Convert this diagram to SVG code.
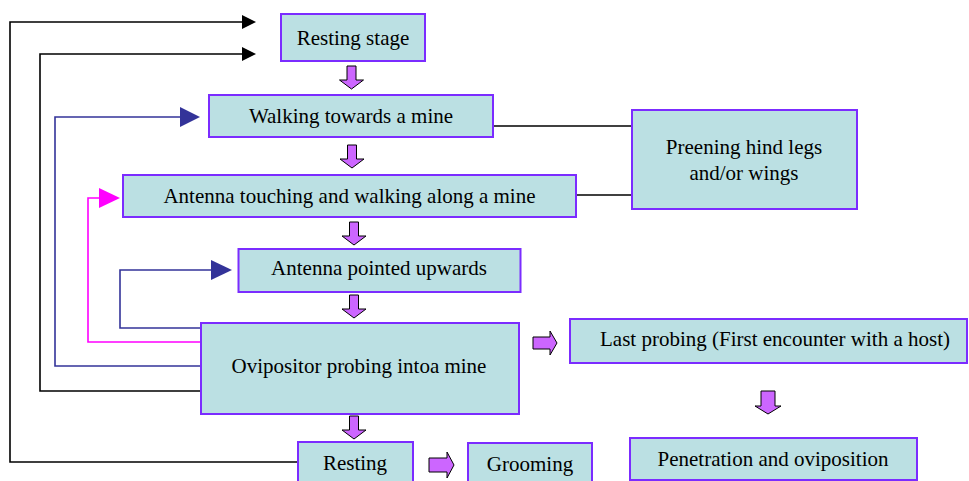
<svg xmlns="http://www.w3.org/2000/svg" width="969" height="481" viewBox="0 0 969 481">
<style>
.box{fill:#BBE0E3;stroke:#7B2CFF;stroke-width:2}
.t{font-family:"Liberation Serif","Times New Roman",serif;font-size:21px;fill:#000;text-anchor:middle}
.blk{fill:#CC66FF;stroke:#000;stroke-width:1}
.ln{fill:none;stroke-width:1.6}
.k{stroke:#000}
.b{stroke:#333399}
.m{stroke:#FF00FF}
</style>
<rect width="969" height="481" fill="#fff"/>
<g id="connectors">
  <path class="ln k" d="M298,462 H10 V22 H244"/>
  <polygon points="242,15 256,22 242,29" fill="#000"/>
  <path class="ln k" d="M201,391 H40 V54 H244"/>
  <polygon points="242,47 256,54 242,61" fill="#000"/>
  <path class="ln b" d="M201,366 H55 V117 H182"/>
  <polygon points="180,107 200,117 180,127" fill="#333399"/>
  <path class="ln m" d="M201,342 H88 V198 H101"/>
  <polygon points="99,188 120,198 99,208" fill="#FF00FF"/>
  <path class="ln b" d="M201,328 H120 V270 H213"/>
  <polygon points="211,260 232,270 211,280" fill="#333399"/>
  <path class="ln k" d="M493,126 H632"/>
  <path class="ln k" d="M576,195 H632"/>
  <path class="blk" d="M347,66 H356 V80 H363.5 L351.5,89 L339.5,80 H347 Z"/>
  <path class="blk" d="M347.5,145 H356.5 V159 H364 L352,168 L340,159 H347.5 Z"/>
  <path class="blk" d="M349.5,222 H358.5 V236 H366 L354,245 L342,236 H349.5 Z"/>
  <path class="blk" d="M349.5,295 H358.5 V309 H366 L354,318 L342,309 H349.5 Z"/>
  <path class="blk" d="M349.5,416 H358.5 V430 H366 L354,439 L342,430 H349.5 Z"/>
  <path class="blk" d="M761,391 H775 V406 H781 L768,414 L755,406 H761 Z"/>
  <path class="blk" d="M533,337 H550 V331 L557,343 L550,355 V349 H533 Z"/>
  <path class="blk" d="M429,458 H447 V452 L454,465 L447,478 V472 H429 Z"/>
</g>
<g id="resting-stage"><rect class="box" x="281" y="14" width="144" height="47"/><text class="t" x="353" y="45">Resting stage</text></g>
<g id="walking"><rect class="box" x="209" y="95" width="284" height="42"/><text class="t" x="351" y="123">Walking towards a mine</text></g>
<g id="antenna-touching"><rect class="box" x="123" y="175" width="453" height="42"/><text class="t" x="349.5" y="203">Antenna touching and walking along a mine</text></g>
<g id="preening"><rect class="box" x="632" y="110" width="225" height="99"/><text class="t" x="744" y="154">Preening hind legs</text><text class="t" x="744" y="180">and/or wings</text></g>
<g id="antenna-pointed"><rect class="box" x="238.5" y="249" width="282" height="43"/><text class="t" x="379" y="275">Antenna pointed upwards</text></g>
<g id="ovipositor"><rect class="box" x="201" y="323" width="318" height="91"/><text class="t" x="359" y="373">Ovipositor probing intoa mine</text></g>
<g id="resting"><rect class="box" x="298" y="442" width="115" height="50"/><text class="t" x="355" y="470">Resting</text></g>
<g id="grooming"><rect class="box" x="468" y="443" width="124" height="50"/><text class="t" x="530" y="471">Grooming</text></g>
<g id="last-probing"><rect class="box" x="570" y="319" width="397" height="44"/><text class="t" x="775" y="346">Last probing (First encounter with a host)</text></g>
<g id="penetration"><rect class="box" x="630" y="438" width="287" height="42"/><text class="t" x="773" y="466">Penetration and oviposition</text></g>
</svg>
